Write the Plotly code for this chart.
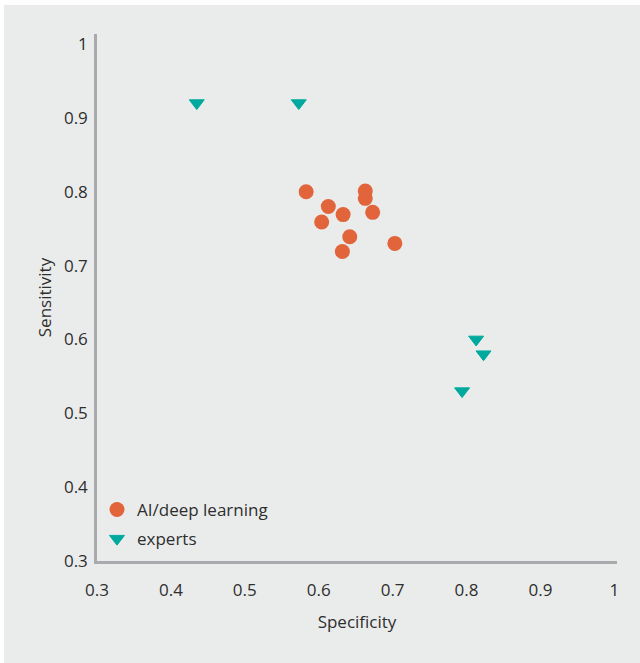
import plotly.graph_objects as go

# AI / deep learning studies
ai_specificity = [0.583, 0.613, 0.604, 0.633, 0.663, 0.663, 0.673, 0.642, 0.632, 0.703]
ai_sensitivity = [0.800, 0.780, 0.759, 0.769, 0.801, 0.791, 0.772, 0.739, 0.719, 0.730]

# Experts
ex_specificity = [0.435, 0.573, 0.813, 0.823, 0.794]
ex_sensitivity = [0.920, 0.920, 0.600, 0.580, 0.530]

tick_vals = [0.3, 0.4, 0.5, 0.6, 0.7, 0.8, 0.9, 1.0]
tick_text = ["0.3", "0.4", "0.5", "0.6", "0.7", "0.8", "0.9", "1"]

ORANGE = "#E1643B"
TEAL = "#00A99D"
BG = "#EAECEB"
AXIS = "#A8AAAD"
TXT = "#2E2E2E"
FONT = "Open Sans"

fig = go.Figure()
fig.add_trace(go.Scatter(
    x=ai_specificity, y=ai_sensitivity, mode="markers", name="AI/deep learning",
    legendgroup="a",
    marker=dict(symbol="circle", size=15, color=ORANGE, line=dict(width=0)),
))
fig.add_trace(go.Scatter(
    x=ex_specificity, y=ex_sensitivity, mode="markers", name="experts",
    legendgroup="b",
    marker=dict(symbol="triangle-down", size=13, color=TEAL, line=dict(width=1, color=TEAL)),
))

# white strips along the top and left edges (the panel is inset)
fig.add_shape(type="rect", xref="paper", yref="paper",
              x0=(-20 - 97) / 519.7, x1=(660 - 97) / 519.7,
              y0=(561 - 5) / 527, y1=(561 + 20) / 527,
              fillcolor="white", line=dict(width=0), layer="below")
fig.add_shape(type="rect", xref="paper", yref="paper",
              x0=(-20 - 97) / 519.7, x1=(4 - 97) / 519.7,
              y0=(561 - 680) / 527, y1=(561 + 20) / 527,
              fillcolor="white", line=dict(width=0), layer="below")

fig.update_layout(
    width=640, height=663,
    margin=dict(l=97, r=23, t=34, b=102),
    paper_bgcolor=BG,
    plot_bgcolor="rgba(0,0,0,0)",
    font=dict(family=FONT, size=17, color=TXT),
    showlegend=True,
    legend=dict(x=0, xanchor="left", y=(561 - 492) / 527, yanchor="top",
                bgcolor="rgba(0,0,0,0)", borderwidth=0,
                traceorder="grouped", tracegroupgap=4,
                font=dict(family=FONT, size=17, color=TXT)),
    xaxis=dict(range=[0.3, 1.0036], tickvals=tick_vals, ticktext=tick_text,
               showgrid=False, zeroline=False, showline=True,
               linecolor=AXIS, linewidth=2.5, ticks="", ticklabelstandoff=12,
               tickfont=dict(family=FONT, size=17, color=TXT),
               title=dict(text="Specificity", standoff=16,
                          font=dict(family=FONT, size=17, color=TXT))),
    yaxis=dict(range=[0.3, 1.0135], tickvals=tick_vals, ticktext=tick_text,
               showgrid=False, zeroline=False, showline=True,
               linecolor=AXIS, linewidth=2.5, ticks="", ticklabelstandoff=3,
               tickfont=dict(family=FONT, size=17, color=TXT),
               title=dict(text="Sensitivity", standoff=8,
                          font=dict(family=FONT, size=17, color=TXT))),
)

fig.write_html(
    "out.html", config={"displayModeBar": False},
    post_script=("document.documentElement.style.margin='0px';"
                 "document.documentElement.style.background='#EAECEB';"
                 "document.body.style.margin='0px';"
                 "document.body.style.background='#EAECEB';"))
